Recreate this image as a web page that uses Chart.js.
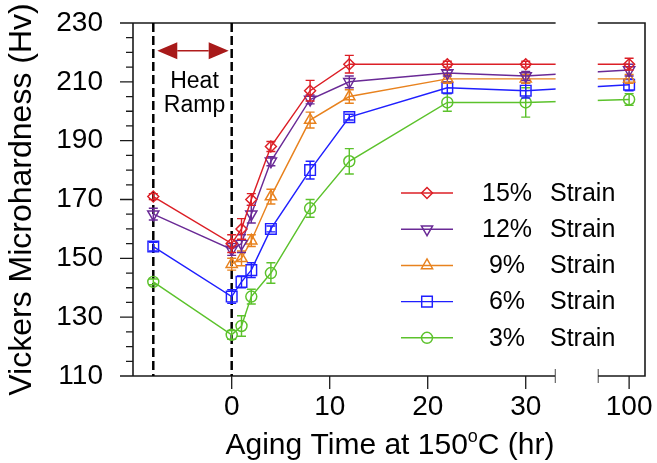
<!DOCTYPE html>
<html>
<head>
<meta charset="utf-8">
<title>Vickers Microhardness vs Aging Time</title>
<script src="https://cdn.jsdelivr.net/npm/chart.js@4.4.1/dist/chart.umd.min.js"></script>
<style>
  html, body { margin: 0; padding: 0; background: #fff; }
  #wrap { width: 657px; height: 463px; position: relative; }
</style>
</head>
<body>
<div id="wrap"><canvas id="hardnessChart"></canvas></div>
<script>
// Aging times in hours; -8 marks the start of the heat ramp
const agingTimes = [-8, 0, 1, 2, 4, 8, 12, 22, 30, 100];

const strainLabels = ['15%', '12%', '9%', '6%', '3%'];

// Hardness (Hv) per pre-strain level
const hv15 = [171, 155, 160, 170, 188, 207, 216, 216, 216, 216];
const hv12 = [165, 153, 155, 165, 183, 204, 210, 213, 212, 214];
const hv9  = [null, 148, 150, 156, 171, 197, 205, 211, 211, 211];
const hv6  = [154, 137, 142, 146, 160, 180, 198, 208, 207, 209];
const hv3  = [142, 124, 127, 137, 145, 167, 183, 203, 203, 204];

// Error bar half-widths (Hv)
const err15 = [1, 3, 3.5, 2, 1.7, 3.5, 3, 1, 1, 2];
const err12 = [2, 2, 3, 3, 1.5, 1.5, 2, 1, 1.5, 2];
const err9  = [null, 2, 2.5, 2, 2.5, 2.7, 2.3, 1.5, 1.5, 1.5];
const err6  = [1.5, 2.3, 2, 2.5, 1, 3, 1, 2, 2.5, 2];
const err3  = [1, 1.5, 3.5, 2.5, 3.5, 3, 4.3, 3, 5, 2];

const xTickValues = [0, 10, 20, 30, 100];
const rampBounds = [-8, 0];

// broken x axis: 100 h is drawn just past the gap
const AXIS_100 = 40.55;
const GAP_FROM = 33.05;
const GAP_TO = 37.35;
function toAxis(t) { return t === 100 ? AXIS_100 : t; }

const FONT = "'Liberation Sans', Arial, Helvetica, sans-serif";
const INK = '#1a1a1a';
const LW = 1.45;

const seriesDefs = [
  { values: hv15, errors: err15, color: '#dc1f26', style: 'rectRot',  radius: 5.5, rotation: 0 },
  { values: hv12, errors: err12, color: '#6a2a96', style: 'triangle', radius: 6.5, rotation: 180 },
  { values: hv9,  errors: err9,  color: '#e8821e', style: 'triangle', radius: 6.5, rotation: 0 },
  { values: hv6,  errors: err6,  color: '#1f1fff', style: 'rect',     radius: 7.5, rotation: 0 },
  { values: hv3,  errors: err3,  color: '#5cc22c', style: 'circle',   radius: 5.5, rotation: 0 }
];

const datasets = seriesDefs.map((s, k) => ({
  label: strainLabels[k] + ' Strain',
  data: agingTimes
    .map((t, i) => ({ x: toAxis(t), y: s.values[i], err: s.errors[i] }))
    .filter(p => p.y !== null),
  borderColor: s.color,
  backgroundColor: 'rgba(0,0,0,0)',
  borderWidth: LW,
  pointStyle: s.style,
  pointRadius: s.radius,
  pointHoverRadius: s.radius,
  pointRotation: s.rotation,
  pointBorderColor: s.color,
  pointBackgroundColor: 'rgba(0,0,0,0)',
  pointBorderWidth: LW,
  tension: 0
}));

// cut the data lines where the x axis is broken
const axisBreak = {
  id: 'axisBreak',
  beforeDatasetsDraw(chart) {
    const { ctx, scales: { x } } = chart;
    const g0 = x.getPixelForValue(GAP_FROM), g1 = x.getPixelForValue(GAP_TO);
    ctx.save();
    ctx.beginPath();
    ctx.rect(0, 0, g0, chart.height);
    ctx.rect(g1, 0, chart.width - g1, chart.height);
    ctx.clip();
  },
  afterDatasetsDraw(chart) {
    chart.ctx.restore();
  }
};

// vertical error bars with caps
const errorBars = {
  id: 'errorBars',
  afterDatasetDraw(chart, args) {
    const { ctx, scales: { y } } = chart;
    const ds = chart.data.datasets[args.index];
    ctx.save();
    ctx.strokeStyle = ds.borderColor;
    ctx.lineWidth = LW;
    args.meta.data.forEach((pt, i) => {
      const p = ds.data[i];
      if (!p.err) return;
      const top = y.getPixelForValue(p.y + p.err);
      const bot = y.getPixelForValue(p.y - p.err);
      ctx.beginPath();
      ctx.moveTo(pt.x, top); ctx.lineTo(pt.x, bot);
      ctx.moveTo(pt.x - 4.5, top); ctx.lineTo(pt.x + 4.5, top);
      ctx.moveTo(pt.x - 4.5, bot); ctx.lineTo(pt.x + 4.5, bot);
      ctx.stroke();
    });
    ctx.restore();
  }
};

// frame, tick marks, heat ramp markers
const frame = {
  id: 'frame',
  beforeDatasetsDraw(chart) {
    const { ctx, chartArea: a, scales: { x, y } } = chart;
    ctx.save();
    ctx.strokeStyle = INK;
    ctx.lineWidth = 1.6;
    ctx.lineCap = 'butt';

    const g0 = x.getPixelForValue(GAP_FROM), g1 = x.getPixelForValue(GAP_TO);
    ctx.beginPath();
    ctx.moveTo(a.left, a.top); ctx.lineTo(a.left, a.bottom);
    ctx.moveTo(a.left, a.top); ctx.lineTo(a.right, a.top);
    ctx.lineTo(a.right, a.bottom);
    ctx.lineTo(g1, a.bottom);
    ctx.moveTo(a.left, a.bottom); ctx.lineTo(g0, a.bottom);
    // break marks
    ctx.moveTo(g0, a.bottom - 7); ctx.lineTo(g0, a.bottom + 7);
    ctx.moveTo(g1, a.bottom - 7); ctx.lineTo(g1, a.bottom + 7);
    ctx.stroke();

    // y ticks: major every 20, minor every 5
    ctx.lineWidth = 1.3;
    ctx.beginPath();
    for (let v = y.min; v <= y.max; v += 5) {
      const py = y.getPixelForValue(v);
      const len = (v - y.min) % 20 === 0 ? 13 : 7;
      ctx.moveTo(a.left - len, py); ctx.lineTo(a.left, py);
    }
    // x ticks
    xTickValues.forEach(t => {
      const px = x.getPixelForValue(toAxis(t));
      ctx.moveTo(px, a.bottom); ctx.lineTo(px, a.bottom + 13);
    });
    ctx.stroke();

    // heat ramp boundaries
    ctx.strokeStyle = '#000';
    ctx.lineWidth = 2.5;
    ctx.setLineDash([9, 4]);
    ctx.beginPath();
    rampBounds.forEach(t => {
      const px = x.getPixelForValue(t);
      ctx.moveTo(px, a.top); ctx.lineTo(px, a.bottom);
    });
    ctx.stroke();
    ctx.setLineDash([]);

    // double arrow + label
    const xl = x.getPixelForValue(rampBounds[0]) + 4;
    const xr = x.getPixelForValue(rampBounds[1]) - 3;
    const ya = y.getPixelForValue(220.6);
    const head = 20, half = 8.5;
    ctx.strokeStyle = '#b01c1c';
    ctx.fillStyle = '#a81a1a';
    ctx.lineWidth = 1.5;
    ctx.beginPath();
    ctx.moveTo(xl + head, ya); ctx.lineTo(xr - head, ya);
    ctx.stroke();
    ctx.beginPath();
    ctx.moveTo(xl, ya); ctx.lineTo(xl + head, ya - half); ctx.lineTo(xl + head, ya + half); ctx.closePath();
    ctx.moveTo(xr, ya); ctx.lineTo(xr - head, ya - half); ctx.lineTo(xr - head, ya + half); ctx.closePath();
    ctx.fill();

    const xc = (x.getPixelForValue(rampBounds[0]) + x.getPixelForValue(rampBounds[1])) / 2 + 2;
    ctx.fillStyle = '#000';
    ctx.font = '23px ' + FONT;
    ctx.textAlign = 'center';
    ctx.textBaseline = 'alphabetic';
    ctx.fillText('Heat', xc, y.getPixelForValue(207.9));
    ctx.fillText('Ramp', xc, y.getPixelForValue(199.9));
    ctx.restore();
  },
  afterDraw(chart) {
    const { ctx, chartArea: a } = chart;
    ctx.save();

    // legend inside the plot
    ctx.font = '25px ' + FONT;
    ctx.textBaseline = 'middle';
    chart.data.datasets.forEach((ds, i) => {
      const ry = a.top + 170 + i * 36.2;
      ctx.strokeStyle = ds.borderColor;
      ctx.lineWidth = LW;
      ctx.beginPath();
      ctx.moveTo(a.left + 268, ry); ctx.lineTo(a.left + 320, ry);
      ctx.stroke();
      ctx.fillStyle = 'rgba(0,0,0,0)';
      Chart.helpers.drawPoint(ctx, {
        pointStyle: ds.pointStyle, radius: ds.pointRadius,
        rotation: ds.pointRotation, borderWidth: LW
      }, a.left + 294, ry);
      ctx.fillStyle = '#000';
      ctx.textAlign = 'center';
      ctx.fillText(strainLabels[i], a.left + 374, ry + 1);
      ctx.textAlign = 'left';
      ctx.fillText('Strain', a.left + 417, ry + 1);
    });

    // x axis title with superscript o
    const main = '30px ' + FONT, sup = '18px ' + FONT;
    const t1 = 'Aging Time at 150', t2 = 'o', t3 = 'C (hr)';
    ctx.font = main; const w1 = ctx.measureText(t1).width, w3 = ctx.measureText(t3).width;
    ctx.font = sup; const w2 = ctx.measureText(t2).width;
    const base = a.bottom + 78;
    let tx = (a.left + a.right) / 2 + 1 - (w1 + w2 + w3) / 2;
    ctx.fillStyle = '#000';
    ctx.textAlign = 'left';
    ctx.textBaseline = 'alphabetic';
    ctx.font = main; ctx.fillText(t1, tx, base); tx += w1;
    ctx.font = sup; ctx.fillText(t2, tx, base - 12); tx += w2;
    ctx.font = main; ctx.fillText(t3, tx, base);
    ctx.restore();
  }
};

new Chart(document.getElementById('hardnessChart'), {
  type: 'line',
  data: { datasets },
  options: {
    responsive: true,
    maintainAspectRatio: false,
    animation: false,
    devicePixelRatio: 1,
    layout: { padding: { top: 23, right: 12, left: 0, bottom: 0 } },
    plugins: {
      legend: { display: false },
      tooltip: { enabled: false }
    },
    scales: {
      x: {
        type: 'linear',
        min: -10.07,
        max: 42.17,
        grid: { display: false, drawTicks: false },
        border: { display: false },
        afterBuildTicks: scale => {
          scale.ticks = xTickValues.map(t => ({ value: toAxis(t) }));
        },
        afterFit: scale => {
          scale.height = 87;
          scale.paddingLeft = 0;
          scale.paddingRight = 0;
        },
        ticks: {
          padding: 14,
          color: '#000',
          font: { family: FONT, size: 28 },
          maxRotation: 0,
          autoSkip: false,
          callback: function(value) {
            const t = xTickValues.find(v => Math.abs(toAxis(v) - value) < 1e-6);
            return t === undefined ? '' : String(t);
          }
        }
      },
      y: {
        min: 110,
        max: 230,
        grid: { display: false, drawTicks: false },
        border: { display: false },
        afterFit: scale => {
          scale.width = 133;
          scale.paddingTop = 0;
          scale.paddingBottom = 0;
        },
        title: {
          display: true,
          text: 'Vickers Microhardness (Hv)',
          color: '#000',
          font: { family: FONT, size: 32 },
          padding: { top: 3, bottom: 0 }
        },
        ticks: {
          stepSize: 20,
          padding: 30,
          color: '#000',
          font: { family: FONT, size: 28 }
        }
      }
    }
  },
  plugins: [axisBreak, errorBars, frame]
});
</script>
</body>
</html>
